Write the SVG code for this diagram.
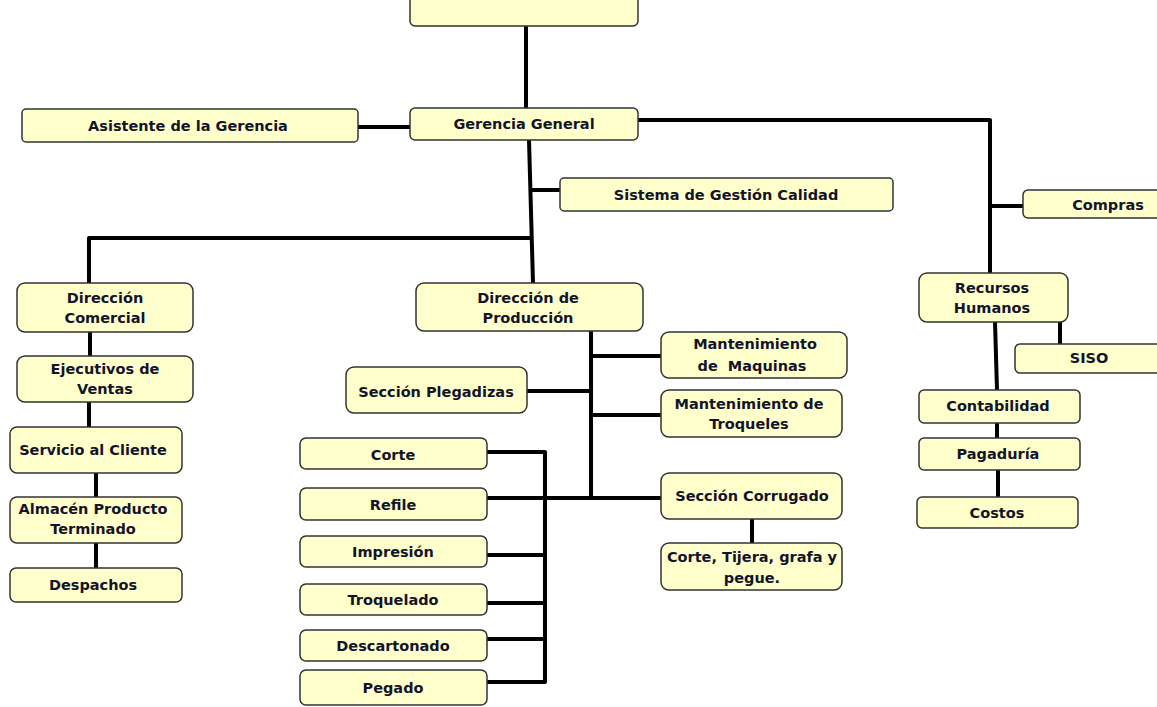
<svg xmlns="http://www.w3.org/2000/svg" width="1157" height="707" viewBox="0 0 1157 707">
<style>
.b{fill:#ffffcc;stroke:#333;stroke-width:1.5}
.t{font-family:"DejaVu Sans",Verdana,sans-serif;font-weight:bold;font-size:14.5px;fill:#141428;text-anchor:middle}
.c{fill:none;stroke:#000;stroke-width:4;stroke-linejoin:round;stroke-linecap:butt}
</style>
<rect width="1157" height="707" fill="#fff"/>
<g id="connectors" class="c">
<path d="M526 26V108"/>
<path d="M358 127H410"/>
<path d="M638 120H990V273"/>
<path d="M990 206H1023"/>
<path d="M529 140L533 283"/>
<path d="M531 190H560"/>
<path d="M530 238H89V283"/>
<path d="M90 332V356"/>
<path d="M89 402V427"/>
<path d="M96 473V497"/>
<path d="M96 543V568"/>
<path d="M591 331V498"/>
<path d="M591 356H661"/>
<path d="M527 391H591"/>
<path d="M591 415H661"/>
<path d="M487 498H661"/>
<path d="M752 519V543"/>
<path d="M487 452H545V682H487"/>
<path d="M487 555H545"/>
<path d="M487 603H545"/>
<path d="M487 639H545"/>
<path d="M995 322L997 390"/>
<path d="M1060 322V344"/>
<path d="M997 423V438"/>
<path d="M998 470V497"/>
</g>
<g id="n-top"><rect class="b" x="410" y="-10" width="228" height="36" rx="5"/></g>
<g id="n-gerencia"><rect class="b" x="410" y="108" width="228" height="32" rx="5"/><text class="t" x="524" y="129">Gerencia General</text></g>
<g id="n-asistente"><rect class="b" x="22" y="109" width="336" height="33" rx="4"/><text class="t" x="188" y="131">Asistente de la Gerencia</text></g>
<g id="n-sgc"><rect class="b" x="560" y="178" width="333" height="33" rx="4"/><text class="t" x="726" y="200">Sistema de Gestión Calidad</text></g>
<g id="n-compras"><rect class="b" x="1023" y="190" width="160" height="28" rx="5"/><text class="t" x="1108" y="210">Compras</text></g>
<g id="n-dircom"><rect class="b" x="17" y="283" width="176" height="49" rx="8"/><text class="t" x="105" y="303">Dirección</text><text class="t" x="105" y="323">Comercial</text></g>
<g id="n-ejec"><rect class="b" x="17" y="356" width="176" height="46" rx="8"/><text class="t" x="105" y="374">Ejecutivos de</text><text class="t" x="105" y="394">Ventas</text></g>
<g id="n-servicio"><rect class="b" x="10" y="427" width="172" height="46" rx="7"/><text class="t" x="93" y="455">Servicio al Cliente</text></g>
<g id="n-almacen"><rect class="b" x="10" y="497" width="172" height="46" rx="7"/><text class="t" x="93" y="514">Almacén Producto</text><text class="t" x="93" y="534">Terminado</text></g>
<g id="n-despachos"><rect class="b" x="10" y="568" width="172" height="34" rx="6"/><text class="t" x="93" y="590">Despachos</text></g>
<g id="n-dirprod"><rect class="b" x="416" y="283" width="227" height="48" rx="8"/><text class="t" x="528" y="303">Dirección de</text><text class="t" x="528" y="323">Producción</text></g>
<g id="n-mmaq"><rect class="b" x="661" y="332" width="186" height="46" rx="8"/><text class="t" x="755" y="349">Mantenimiento</text><text class="t" x="752" y="371" xml:space="preserve">de  Maquinas</text></g>
<g id="n-pleg"><rect class="b" x="346" y="367" width="181" height="46" rx="8"/><text class="t" x="436" y="397">Sección Plegadizas</text></g>
<g id="n-mtroq"><rect class="b" x="661" y="390" width="181" height="47" rx="8"/><text class="t" x="749" y="409">Mantenimiento de</text><text class="t" x="749" y="429">Troqueles</text></g>
<g id="n-corrug"><rect class="b" x="661" y="473" width="181" height="46" rx="8"/><text class="t" x="752" y="501">Sección Corrugado</text></g>
<g id="n-ctgp"><rect class="b" x="661" y="543" width="181" height="47" rx="8"/><text class="t" x="752" y="562">Corte, Tijera, grafa y</text><text class="t" x="752" y="583">pegue.</text></g>
<g id="n-corte"><rect class="b" x="300" y="438" width="187" height="31" rx="6"/><text class="t" x="393" y="460">Corte</text></g>
<g id="n-refile"><rect class="b" x="300" y="488" width="187" height="32" rx="6"/><text class="t" x="393" y="510">Refile</text></g>
<g id="n-impresion"><rect class="b" x="300" y="536" width="187" height="31" rx="6"/><text class="t" x="393" y="557">Impresión</text></g>
<g id="n-troquelado"><rect class="b" x="300" y="584" width="187" height="31" rx="6"/><text class="t" x="393" y="605">Troquelado</text></g>
<g id="n-descart"><rect class="b" x="300" y="630" width="187" height="31" rx="6"/><text class="t" x="393" y="651">Descartonado</text></g>
<g id="n-pegado"><rect class="b" x="300" y="670" width="187" height="35" rx="6"/><text class="t" x="393" y="693">Pegado</text></g>
<g id="n-rrhh"><rect class="b" x="919" y="273" width="149" height="49" rx="8"/><text class="t" x="992" y="293">Recursos</text><text class="t" x="992" y="313">Humanos</text></g>
<g id="n-siso"><rect class="b" x="1015" y="344" width="150" height="29" rx="5"/><text class="t" x="1089" y="363">SISO</text></g>
<g id="n-contab"><rect class="b" x="919" y="390" width="161" height="33" rx="5"/><text class="t" x="998" y="411">Contabilidad</text></g>
<g id="n-pagad"><rect class="b" x="919" y="438" width="161" height="32" rx="5"/><text class="t" x="998" y="459">Pagaduría</text></g>
<g id="n-costos"><rect class="b" x="917" y="497" width="161" height="31" rx="5"/><text class="t" x="997" y="518">Costos</text></g>
</svg>
